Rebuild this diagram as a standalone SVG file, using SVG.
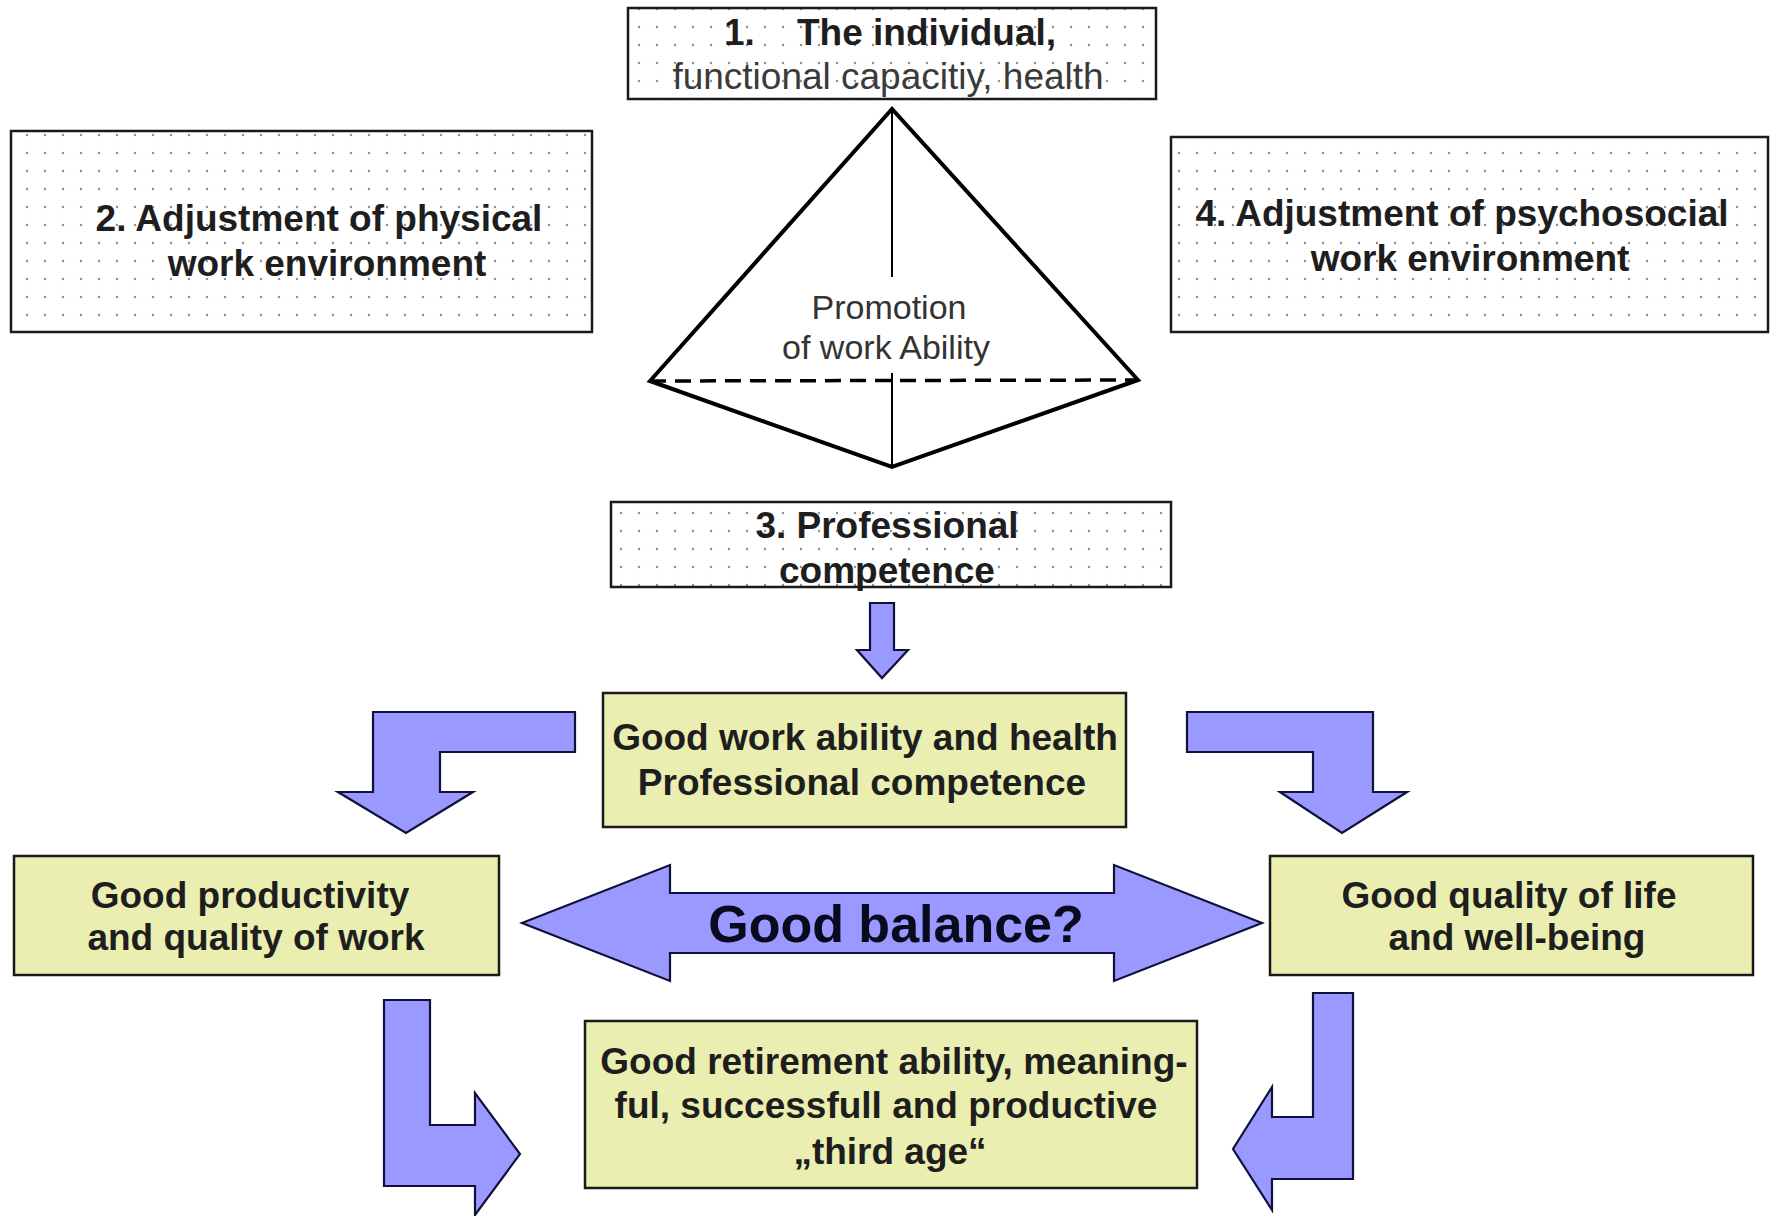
<svg xmlns="http://www.w3.org/2000/svg" width="1773" height="1216" viewBox="0 0 1773 1216">
<defs>
<pattern id="dots" x="0" y="0" width="18" height="18" patternUnits="userSpaceOnUse">
<rect width="18" height="18" fill="#ffffff"/>
<circle cx="9" cy="9" r="1.2" fill="#8e8e8e"/>
</pattern>
</defs>
<style>
.dotbox{fill:url(#dots);stroke:#1a1a1a;stroke-width:2.5}
.ybox{fill:#eaeeb0;stroke:#1a1a1a;stroke-width:2.5}
.arrow{fill:#9999ff;stroke:#10103a;stroke-width:2.2;stroke-linejoin:miter}
.t{font-family:"Liberation Sans",Arial,sans-serif;font-size:37px;fill:#1e1e1e;text-anchor:middle}
.b{font-weight:bold}
.pt{font-family:"Liberation Sans",Arial,sans-serif;font-size:34px;fill:#333;text-anchor:middle}
.edge{fill:none;stroke:#000;stroke-width:4;stroke-linejoin:miter}
</style>
<rect width="1773" height="1216" fill="#ffffff"/>

<g id="node-individual">
<rect class="dotbox" x="628" y="8" width="528" height="91"/>
<text class="t b" style="text-anchor:start"><tspan x="724" y="45">1.</tspan><tspan x="797" y="45">The individual,</tspan></text>
<text class="t" x="888" y="89" style="fill:#3a3a3a">functional capacitiy, health</text>
</g>

<g id="node-physical">
<rect class="dotbox" x="11" y="131" width="581" height="201"/>
<text class="t b" x="319" y="231">2. Adjustment of physical</text>
<text class="t b" x="327" y="276">work environment</text>
</g>

<g id="node-psychosocial">
<rect class="dotbox" x="1171" y="137" width="597" height="195"/>
<text class="t b" x="1462" y="226">4. Adjustment of psychosocial</text>
<text class="t b" x="1470" y="271">work environment</text>
</g>

<g id="node-pyramid">
<polygon class="edge" points="892,109 650,381 892,467 1138,380"/>
<line x1="650" y1="381" x2="1138" y2="380" stroke="#000" stroke-width="3.5" stroke-dasharray="16 9"/>
<line x1="892" y1="109" x2="892" y2="467" stroke="#000" stroke-width="2"/>
<rect x="775" y="277" width="228" height="96" fill="#ffffff"/>
<text class="pt" x="889" y="319">Promotion</text>
<text class="pt" x="886" y="359">of work Ability</text>
</g>

<g id="node-competence">
<rect class="dotbox" x="611" y="502" width="560" height="85"/>
<text class="t b" x="887" y="538">3. Professional</text>
<text class="t b" x="887" y="583">competence</text>
</g>

<g id="node-workability">
<rect class="ybox" x="603" y="693" width="523" height="134"/>
<text class="t b" x="865" y="750">Good work ability and health</text>
<text class="t b" x="862" y="795">Professional competence</text>
</g>

<g id="node-productivity">
<rect class="ybox" x="14" y="856" width="485" height="119"/>
<text class="t b" x="250" y="908">Good productivity</text>
<text class="t b" x="256" y="950">and quality of work</text>
</g>

<g id="node-qualityoflife">
<rect class="ybox" x="1270" y="856" width="483" height="119"/>
<text class="t b" x="1509" y="908">Good quality of life</text>
<text class="t b" x="1517" y="950">and well-being</text>
</g>

<g id="node-retirement">
<rect class="ybox" x="585" y="1021" width="612" height="167"/>
<text class="t b" x="894" y="1074">Good retirement ability, meaning-</text>
<text class="t b" x="886" y="1118">ful, successfull and productive</text>
<text class="t b" x="890" y="1164">„third age“</text>
</g>

<g id="connectors">
<polygon class="arrow" points="870,603 894,603 894,650 908,650 882,678 857,650 870,650"/>
<polygon class="arrow" points="575,712 373,712 373,792 338,792 406,833 473,792 440,792 440,752 575,752"/>
<polygon class="arrow" points="1187,712 1373,712 1373,792 1407,792 1342,833 1280,792 1313,792 1313,752 1187,752"/>
<g id="balance">
<polygon class="arrow" points="522,923 670,865 670,893 1114,893 1114,865 1262,923 1114,981 1114,953 670,953 670,981"/>
<text class="t b" x="896" y="942" style="font-size:52px;fill:#0a0a1e">Good balance?</text>
</g>
<polygon class="arrow" points="384,1000 430,1000 430,1125 475,1125 475,1093 520,1154 475,1215 475,1186 384,1186"/>
<polygon class="arrow" points="1313,993 1353,993 1353,1179 1272,1179 1272,1210 1233,1149 1272,1087 1272,1117 1313,1117"/>
</g>
</svg>
